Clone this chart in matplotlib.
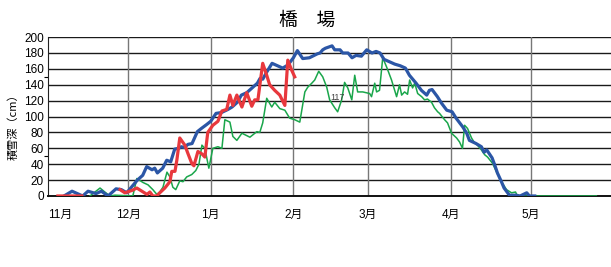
import matplotlib.pyplot as plt
import numpy as np

plt.rcParams['font.family'] = ['Liberation Sans', 'Noto Sans CJK JP', 'DejaVu Sans']

# x = days since Nov 1
month_days = [0, 30, 61, 92, 120, 151, 181]
month_labels = ["11月", "12月", "1月", "2月", "3月", "4月", "5月"]

# average (blue)
avg_day = [6, 9, 13, 15, 18, 20, 22.5, 25.5, 27.5, 29.5, 31.5, 32.5, 33.5, 35.5, 37, 39, 40, 41,
           43, 44.5, 46, 47.5, 49, 50, 51, 52.5, 54, 56, 57.5, 59.5, 61, 63, 65, 67.5, 69, 71,
           72.5, 74.5, 76.5, 78.5, 79.5, 80.5, 82, 84, 86, 88, 90, 92, 93.5, 95.5, 98, 101,
           102, 103, 104, 106.5, 107.5, 109.5, 110.5, 112.5, 114, 115.5, 117.5, 118.5, 119.5,
           121.5, 123, 124.5, 126, 128, 130, 132, 134, 135.5, 138, 140, 142, 143, 144, 146,
           147.5, 149.5, 151.5, 153, 155.5, 157, 158, 160.5, 162.5, 163.5, 164.5, 166.5,
           167.5, 168.5, 170, 171, 173, 175.5, 177, 179.5, 180.5, 182.5]
avg_val = [0, 6, 0, 6, 3, 6, 0, 9, 8, 4, 12, 16, 20, 26, 37, 33, 35, 29,
           35, 45, 43, 59, 60, 62, 61, 65, 66, 81, 85, 90, 94, 104, 105, 109, 112, 118,
           127, 130, 136, 142, 148, 147, 156, 167, 164, 161, 165, 174, 183, 173, 174, 179,
           180, 184, 186, 189, 184, 184, 180, 180, 174, 177, 176, 180, 184,
           180, 182, 180, 172, 169, 166, 164, 161, 152, 142, 133, 127, 133, 134, 125,
           117, 108, 106, 98, 87, 79, 70, 66, 62, 55, 58, 48,
           39, 29, 18, 10, 1, 1, 0, 4, 0, 0]

# this season (red)
cur_day = [3.7, 12.7, np.nan, 27, 28.8, 31.5, 33.3, 35.2, 37.1, 38.2, 39.3, 40.8, 41.9, 43.8,
           45.7, 46.4, 47.6, 48.3, 49.4, 51.3, 52.4, 53.9, 54.7, 56.2, 57.7, 58.8, 59.9,
           61.8, 63.7, 65.2, 67, 68.2, 69.3, 70.8, 72.7, 74.5, 76.4, 77.5, 78.7, 80.5, 82,
           83.1, 85, 86.9, 88.8, 89.9, 91.4, 92.5]
cur_val = [0, 0, np.nan, 8, 4, 7, 10, 6, 2, 5, 0, 0, 4, 10,
           18, 31, 31, 45, 73, 64, 54, 41, 38, 56, 53, 49, 80,
           89, 94, 107, 109, 127, 114, 127, 112, 130, 113, 121, 121, 167, 152,
           140, 133, 127, 114, 171, 158, 150]

# last season (green)
prev_day = [15.7, 19.5, 21.3, 23.2, 25.1, 31.8, 33.3, 35.6, 37.5, 39.3, 40.8, 41.9, 43.1, 44.6,
            45.7, 46.8, 47.9, 49.4, 50.6, 52, 53.9, 55.4, 56.6, 57.7, 58.8, 60.3, 61.8, 63.7,
            65.2, 66.3, 68.2, 69.3, 70.8, 72.7, 75.7, 78.3, 79.4, 80.5, 82, 83.9, 85, 86.9,
            88.8, 90.6, 92.5, 94.4, 96.3, 97.4, 98.9, 100, 101.5, 103, 104.5, 105.6, 107.5,
            108.6, 110.1, 111.2, 112.4, 113.9, 115, 116.1, 118, 120.6, 121.3, 122.5, 123.2,
            124.3, 125.5, 127, 128.8, 130.7, 131.8, 132.6, 133.7, 134.8, 135.6, 136.7, 137.5,
            138.6, 140.1, 141.2, 142.3, 143.8, 144.9, 146.1, 146.8, 148.7, 149.8, 151.3,
            153.2, 154.3, 155.4, 156.2, 157.3, 158.8, 159.9, 161, 162.5, 163.7, 164.8, 166.7,
            168.2, 170, 171.9, 173.8, 175.3, 176, 205.6]
prev_val = [0, 10, 5, 0, 1, 0, 22, 17, 14, 8, 2, 5, 11, 30,
            24, 11, 8, 19, 18, 24, 27, 32, 40, 64, 60, 35, 60, 62,
            60, 96, 93, 75, 70, 79, 74, 81, 80, 92, 123, 112, 118, 110,
            108, 98, 96, 93, 131, 137, 142, 146, 157, 150, 137, 121, 111,
            106, 121, 143, 136, 121, 152, 131, 131, 129, 125, 142, 131,
            133, 174, 162, 146, 125, 140, 127, 131, 128, 146, 136, 142,
            129, 125, 121, 122, 118, 111, 106, 104, 96, 92, 79,
            73, 68, 60, 89, 85, 73, 67, 64, 58, 52, 49, 41,
            30, 18, 8, 4, 5, 0, 0]

fig = plt.figure(figsize=(6.11, 2.67), dpi=100)
ax = fig.add_axes([0.0786, 0.266, 0.921, 0.595])

ax.plot(prev_day, prev_val, color='#1aa64b', lw=1.1, zorder=3)
ax.plot(avg_day, avg_val, color='#2b56a6', lw=2.3, zorder=4)
ax.plot(cur_day, cur_val, color='#e8383d', lw=2.3, zorder=5)

ax.text(108.5, 124, "117", fontsize=6.5, color='#444444', ha='center', va='center', zorder=6)

ax.set_xlim(0, 211)
ax.set_ylim(0, 200)
ax.set_yticks(range(0, 201, 20))
ax.set_yticks([50, 150], minor=True)
ax.set_xticks(month_days)
ax.set_xticklabels(month_labels)
ax.tick_params(axis='y', which='major', length=0, labelsize=8.5, pad=3)
ax.tick_params(axis='y', which='minor', length=3, width=0.8, direction='out')
ax.tick_params(axis='x', length=0, labelsize=8.5, pad=9)
lbls = ax.get_xticklabels()
lbls[0].set_ha('left')

for v in range(20, 201, 20):
    ax.axhline(v, color='#1a1a1a', lw=1.0, zorder=1)
for d in month_days[1:]:
    ax.axvline(d, color='#777777', lw=1.0, zorder=1)

for s in ['top', 'right']:
    ax.spines[s].set_visible(False)
ax.spines['left'].set_color('#222222')
ax.spines['bottom'].set_color('#111111')
ax.spines['bottom'].set_linewidth(1.4)

fig.text(0.502, 0.925, "橋　場", fontsize=13.5, ha='center', va='center',
         family=['Noto Sans CJK JP'])
fig.text(0.021, 0.536, "積雪深（cm）", fontsize=8, rotation=90, ha='center', va='center',
         family=['Noto Sans CJK JP'])

fig.savefig('out.png', dpi=100)
